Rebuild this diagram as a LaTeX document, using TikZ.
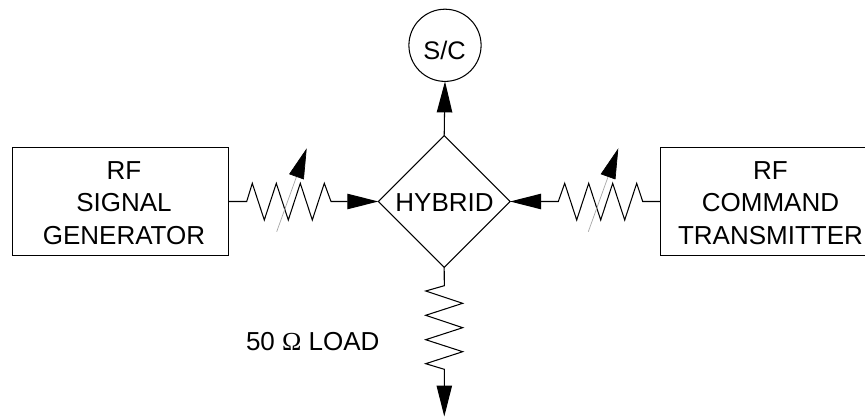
\documentclass[tikz,border=0pt]{standalone}
\usepackage{fontspec}
\setmainfont{Liberation Sans}
\newfontfamily\omegafont{Liberation Serif}
\usetikzlibrary{shapes.geometric,arrows.meta}
\tikzset{
  wire/.style={draw=black,line width=1.05pt,line join=miter,miter limit=10},
  flow/.style={wire,-{Triangle[length=31pt,width=15.4pt,black]}},
  lbl/.style={font=\fontsize{26}{32.5}\selectfont,align=center,inner sep=0pt,outer sep=0pt,text=black},
  boxnode/.style={draw=black,line width=1.05pt,inner sep=0pt,outer sep=0pt,minimum width=216pt,minimum height=108.4pt},
  trim/.style={draw=black!35,line width=0.7pt,-{Triangle[length=30.3pt,width=15.5pt,black]}}
}
\begin{document}
\begin{tikzpicture}[x=1pt,y=-1pt]
\useasboundingbox (0,0) rectangle (865,417);
\node[boxnode,anchor=north west] (sg) at (12.3,147.3) {};
\node[boxnode,anchor=north west] (tx) at (660.3,147.3) {};
\node[lbl] (sgl) at (124,203) {RF\\SIGNAL\\GENERATOR};
\node[lbl] (txl) at (770.5,203) {RF\\COMMAND\\TRANSMITTER};
\node[draw=black,line width=1.05pt,diamond,aspect=1,minimum width=131.7pt,minimum height=131.7pt,inner sep=0pt,outer sep=0pt] (hy) at (444.2,201.5) {};
\node[lbl] (hyl) at (444.5,203) {HYBRID};
\node[draw=black,line width=1.05pt,circle,minimum size=72.2pt,inner sep=0pt,outer sep=0pt] (sc) at (445,45.3) {};
\node[lbl,font=\fontsize{25.4}{30}\selectfont] (scl) at (444.5,50.5) {S/C};
\node[lbl,anchor=base west] (load) at (246,350) {50 {\omegafont Ω} LOAD};
\coordinate (gnd) at (444.3,416.5);
\draw[flow] (hy.north) -- (sc.south);
\draw[flow] (sg.east) -- (246.7,201.5) -- (252.3,183.3) -- (264.3,220) -- (276.3,183.3) -- (288.3,220) -- (300.3,183.3) -- (312.3,220) -- (324.3,183.3) -- (331,201.5) -- (hy.west);
\draw[flow] (tx.west) -- (642.7,201.5) -- (636.7,183.3) -- (624.7,220) -- (612.7,183.3) -- (600.7,220) -- (588.7,183.3) -- (576.7,220) -- (564.7,183.3) -- (558.3,201.5) -- (hy.east);
\draw[flow] (hy.south) -- (444.3,285.7) -- (425.7,291) -- (462.7,303.3) -- (425.7,315.3) -- (462.7,327.7) -- (425.7,339.7) -- (462.7,351.7) -- (425.7,363.7) -- (444.3,369.3) -- (gnd);
\coordinate (a1) at (276.7,231.7);
\coordinate (a2) at (306.7,148.3);
\coordinate (b1) at (588.3,231.7);
\coordinate (b2) at (618.3,148.3);
\draw[trim] (a1) -- (a2);
\draw[trim] (b1) -- (b2);
\end{tikzpicture}
\end{document}
